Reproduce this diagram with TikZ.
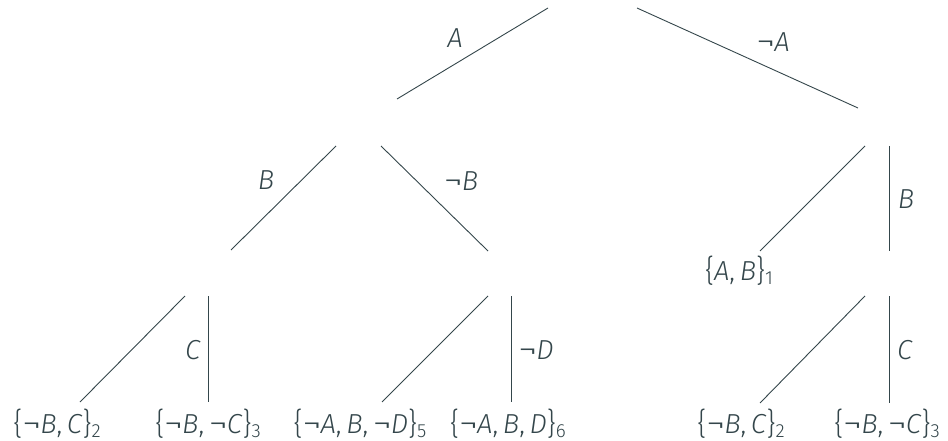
\documentclass[tikz,border=0pt]{standalone}
\usepackage{fontspec}
\setmainfont{Fira Sans}[UprightFont={* Light}, ItalicFont={* Light Italic}]
\definecolor{fg}{HTML}{34464B}
\newcommand\mi[1]{\textit{#1}}
\newcommand\subx[1]{\raisebox{-4pt}{\fontsize{19}{19}\selectfont #1}}
\newcommand\ngt{\scalebox{1.35}[1.1]{¬}\kern-0.5pt}
\newcommand\lbr{\raisebox{-1.5pt}{\scalebox{1}[1.12]{\{}}}
\newcommand\rbr{\raisebox{-1.5pt}{\scalebox{1}[1.12]{\}}}}
\tikzset{
  txt/.style={inner sep=0pt, text=fg, font=\fontsize{27.5}{30}\selectfont},
  leaf/.style={txt, anchor=base},
  lbl/.style={txt, anchor=center},
  edge/.style={draw=fg, line width=0.9pt}
}
\begin{document}
\begin{tikzpicture}[x=1pt,y=-1pt]
\useasboundingbox (0,0) rectangle (948,441);
% edge end points
\coordinate (r1) at (548,8);   \coordinate (a1) at (397,99);
\coordinate (r2) at (637,8);   \coordinate (b1) at (858,108);
\coordinate (a2) at (336,146); \coordinate (c1) at (231,250);
\coordinate (a3) at (381,146); \coordinate (d1) at (488,251);
\coordinate (c2) at (185,296); \coordinate (e1) at (80,402);
\coordinate (c3) at (208,296); \coordinate (f1) at (208,402);
\coordinate (d2) at (488,296); \coordinate (g1) at (382,402);
\coordinate (d3) at (511,296); \coordinate (h1) at (511,402);
\coordinate (b2) at (865,146); \coordinate (i1) at (760,251);
\coordinate (b3) at (889,146); \coordinate (j1) at (889,251);
\coordinate (j2) at (865,296); \coordinate (k1) at (760,403);
\coordinate (j3) at (889,296); \coordinate (l1) at (889,403);
% edges
\draw[edge] (r1) -- (a1);
\draw[edge] (r2) -- (b1);
\draw[edge] (a2) -- (c1);
\draw[edge] (a3) -- (d1);
\draw[edge] (c2) -- (e1);
\draw[edge] (c3) -- (f1);
\draw[edge] (d2) -- (g1);
\draw[edge] (d3) -- (h1);
\draw[edge] (b2) -- (i1);
\draw[edge] (b3) -- (j1);
\draw[edge] (j2) -- (k1);
\draw[edge] (j3) -- (l1);
% edge labels
\node[lbl] (lA)  at (455,38)  {\mi{A}};
\node[lbl] (lnA) at (773,42)  {\ngt\mi{A}};
\node[lbl] (lB)  at (266,180) {\mi{B}};
\node[lbl] (lnB) at (461,181) {\ngt\mi{B}};
\node[lbl] (lC)  at (193,350) {\mi{C}};
\node[lbl] (lnD) at (536,350) {\ngt\mi{D}};
\node[lbl] (lB2) at (906,199) {\mi{B}};
\node[lbl] (lC2) at (905,350) {\mi{C}};
% leaves
\node[leaf] (e) at (57,433)  {\lbr\ngt\mi{B},\,\mi{C}\rbr\subx{2}};
\node[leaf] (f) at (208,433) {\lbr\ngt\mi{B},\,\ngt\mi{C}\rbr\subx{3}};
\node[leaf] (g) at (360,433) {\lbr\ngt\mi{A},\,\mi{B},\,\ngt\mi{D}\rbr\subx{5}};
\node[leaf] (h) at (508,433) {\lbr\ngt\mi{A},\,\mi{B},\,\mi{D}\rbr\subx{6}};
\node[leaf] (i) at (739,280) {\lbr\mi{A},\,\mi{B}\rbr\subx{1}};
\node[leaf] (k) at (741,433) {\lbr\ngt\mi{B},\,\mi{C}\rbr\subx{2}};
\node[leaf] (l) at (887,433) {\lbr\ngt\mi{B},\,\ngt\mi{C}\rbr\subx{3}};
\end{tikzpicture}
\end{document}
